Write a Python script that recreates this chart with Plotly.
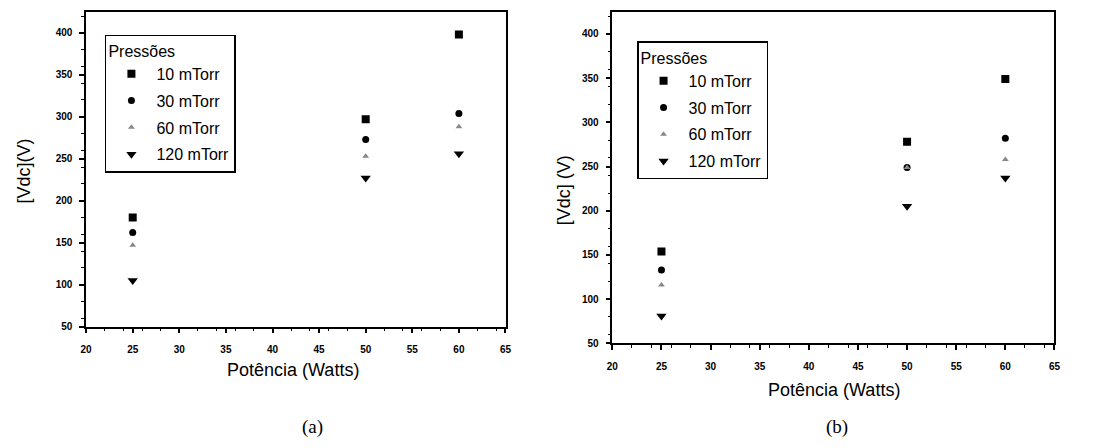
import plotly.graph_objects as go

W, H = 1102, 448
power = [25, 50, 60]
series_names = ["10 mTorr", "30 mTorr", "60 mTorr", "120 mTorr"]
vdc_a = {
    "10 mTorr": [180, 297, 398],
    "30 mTorr": [162, 273, 304],
    "60 mTorr": [147, 253, 288],
    "120 mTorr": [105, 227, 256],
}
vdc_b = {
    "10 mTorr": [154, 278, 349],
    "30 mTorr": [133, 249, 282],
    "60 mTorr": [116, 249, 258],
    "120 mTorr": [81, 205, 237],
}
x_ticks = [20, 25, 30, 35, 40, 45, 50, 55, 60, 65]
y_ticks = [50, 100, 150, 200, 250, 300, 350, 400]

styles = {
    "10 mTorr": dict(symbol="square", size=8, color="black"),
    "30 mTorr": dict(symbol="circle", size=7, color="black"),
    "60 mTorr": dict(symbol="triangle-up", size=6, color="#888888"),
    "120 mTorr": dict(symbol="triangle-down", size=9, color="black"),
}

fig = go.Figure()
for data, xa, ya, leg in [(vdc_a, "x", "y", "legend"), (vdc_b, "x2", "y2", "legend2")]:
    for name in series_names:
        fig.add_trace(go.Scatter(
            x=power, y=data[name], mode="markers", name=name,
            marker=dict(**styles[name], line=dict(width=0)),
            xaxis=xa, yaxis=ya, legend=leg, legendgroup=leg + name,
        ))

def px_x(p):
    return p / W

def px_y(p):
    return 1 - p / H

axis_common = dict(
    showgrid=False, zeroline=False, showline=True, linecolor="black", linewidth=1.5,
    mirror=True, ticks="outside", ticklen=5, tickwidth=1.5, tickcolor="black",
    tickfont=dict(family="Arial", size=10, color="black", weight="bold"),
    minor=dict(ticks="outside", ticklen=3, tickwidth=1, tickcolor="black"),
)

leg_common = dict(
    xanchor="left", yanchor="top", bordercolor="black", borderwidth=1.5, bgcolor="white",
    title=dict(text="Pressões", font=dict(family="Arial", size=16, color="black")),
    font=dict(family="Arial", size=16, color="black"), tracegroupgap=3, itemwidth=40,
)

fig.update_layout(
    width=W, height=H, margin=dict(l=0, r=0, t=0, b=0),
    paper_bgcolor="white", plot_bgcolor="white",
    xaxis=dict(domain=[px_x(81), px_x(505)], range=[20, 65], tickvals=x_ticks,
               anchor="y", ticklabelstandoff=8, **axis_common),
    yaxis=dict(domain=[px_y(331), px_y(12)], range=[50, 425], tickvals=y_ticks,
               anchor="x", ticklabelstandoff=5, **axis_common),
    xaxis2=dict(domain=[px_x(613), px_x(1060)], range=[20, 65], tickvals=x_ticks,
                anchor="y2", ticklabelstandoff=8, **axis_common),
    yaxis2=dict(domain=[px_y(348), px_y(12)], range=[50, 425], tickvals=y_ticks,
                anchor="x2", ticklabelstandoff=5, **axis_common),
    legend=dict(x=px_x(100), y=px_y(35), **leg_common),
    legend2=dict(x=px_x(638), y=px_y(42), **leg_common),
)

ann_font = dict(family="Arial", size=18, color="black")
ann_common = dict(xref="paper", yref="paper", showarrow=False,
                  xanchor="center", yanchor="middle")
fig.add_annotation(text="[Vdc](V)", x=px_x(18), y=px_y(173), textangle=-90,
                   font=ann_font, **ann_common)
fig.add_annotation(text="[Vdc] (V)", x=px_x(565), y=px_y(193), textangle=-90,
                   font=ann_font, **ann_common)
fig.add_annotation(text="Potência (Watts)", x=px_x(290), y=px_y(375),
                   font=ann_font, **ann_common)
fig.add_annotation(text="Potência (Watts)", x=px_x(837), y=px_y(395),
                   font=ann_font, **ann_common)
cap_font = dict(family="Liberation Serif", size=19, color="black")
fig.add_annotation(text="(a)", x=px_x(310), y=px_y(433), font=cap_font, **ann_common)
fig.add_annotation(text="(b)", x=px_x(840), y=px_y(433), font=cap_font, **ann_common)

fig.write_html("out.html")
